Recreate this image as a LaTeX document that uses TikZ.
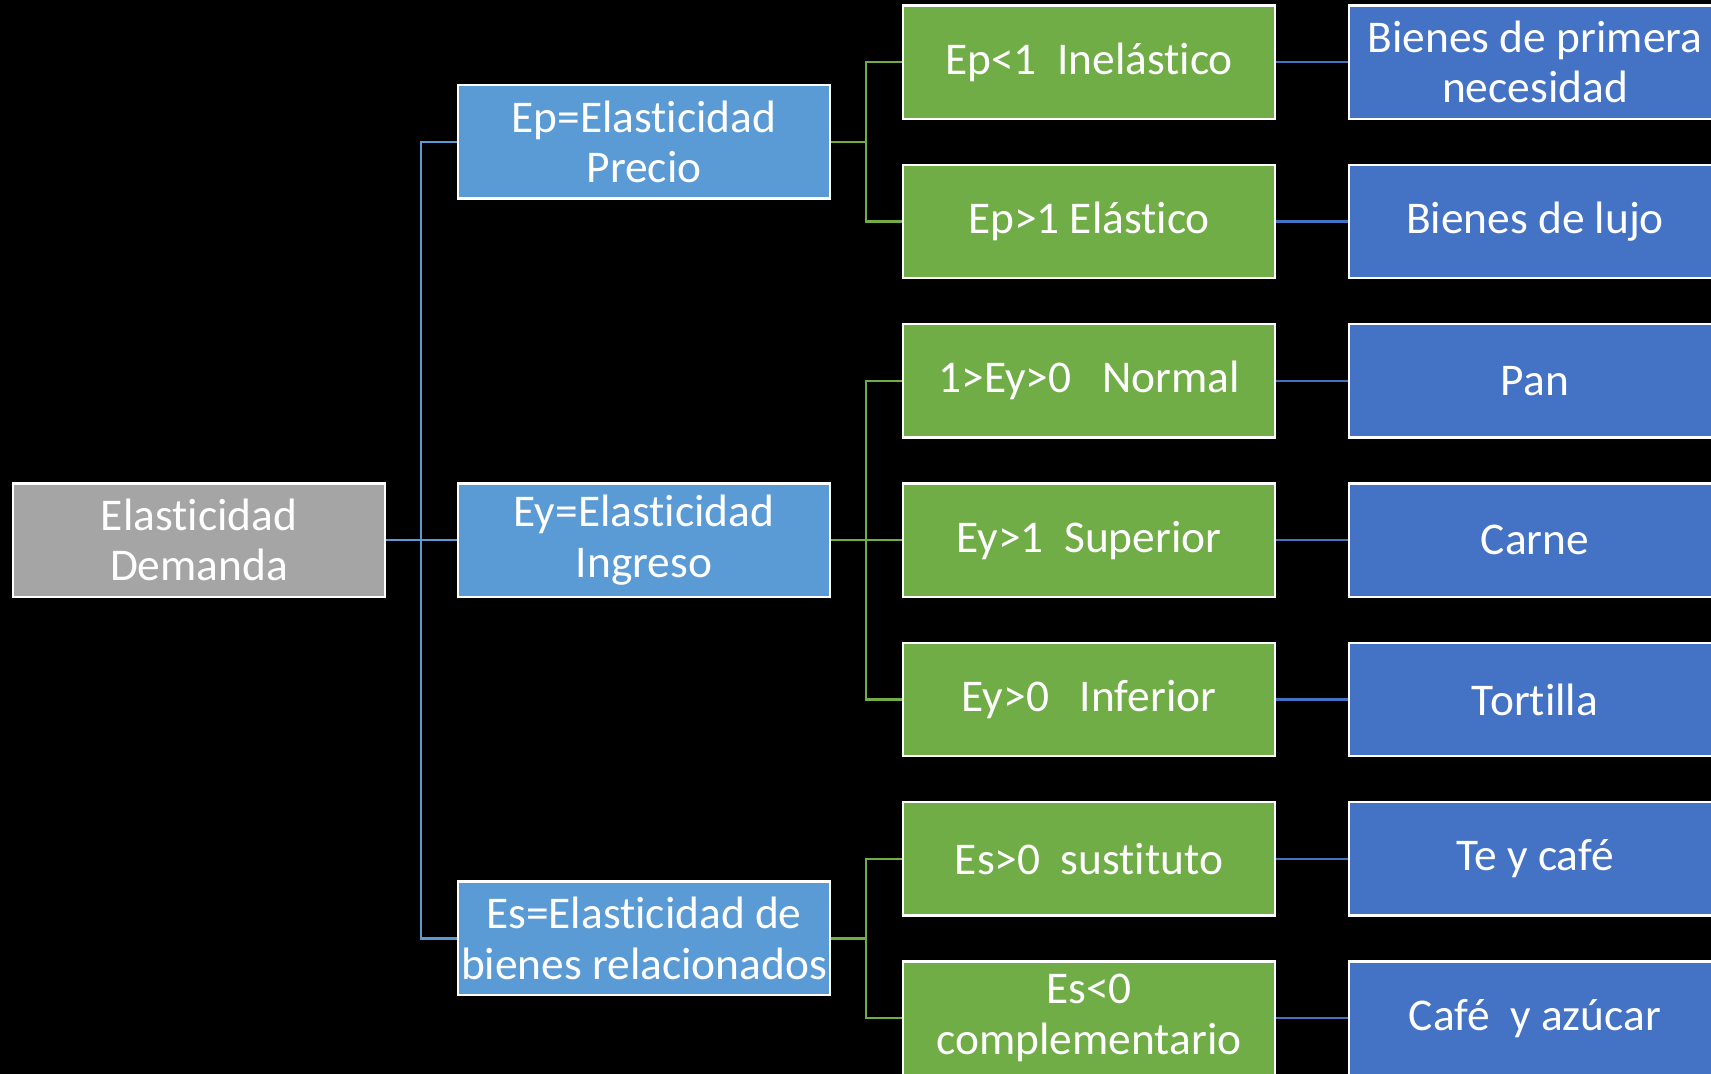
\documentclass[tikz,border=0pt]{standalone}
\usepackage{fontspec}
\setmainfont[Ligatures=NoCommon]{Carlito}
\definecolor{cgray}{HTML}{A5A5A5}
\definecolor{cmid}{HTML}{5B9BD5}
\definecolor{cgreen}{HTML}{70AD47}
\definecolor{cright}{HTML}{4472C4}
\begin{document}
\begin{tikzpicture}[x=0.5pt,y=-0.5pt,
  box/.style={draw=white, line width=1.2pt, minimum width=186pt, minimum height=56.75pt,
    text=white, align=center, inner sep=0pt, font=\fontsize{22.7}{25.2}\selectfont},
  graybox/.style={box, fill=cgray},
  midbox/.style={box, fill=cmid},
  greenbox/.style={box, fill=cgreen},
  rightbox/.style={box, fill=cright},
  bl/.style={draw=cmid, line width=1.1pt},
  gl/.style={draw=cgreen, line width=1.1pt},
  rl/.style={draw=cright, line width=1.1pt}]
\useasboundingbox (0,0) rectangle (1711,1074);
\clip (0,0) rectangle (1711,1074);
\fill[black] (0,0) rectangle (1711,1074);

\coordinate (bt) at (421,540);
\coordinate (gt) at (866,540);

\node[graybox] (ed) at (199,540.1) {Elasticidad\\Demanda};

\node[midbox] (ep) at (644,141.9) {Ep=Elasticidad\\Precio};
\node[midbox] (ey) at (644,540.1) {Ey=Elasticidad\\Ingreso};
\node[midbox] (es) at (644,938.4) {Es=Elasticidad de\\bienes relacionados};

\node[greenbox] (g1) at (1089,62.2) {Ep<1\ \ Inelástico};
\node[greenbox] (g2) at (1089,221.5) {Ep>1 Elástico};
\node[greenbox] (g3) at (1089,380.8) {1>Ey>0\ \ \ Normal};
\node[greenbox] (g4) at (1089,540.1) {Ey>1\ \ Superior};
\node[greenbox] (g5) at (1089,699.5) {Ey>0\ \ \ Inferior};
\node[greenbox] (g6) at (1089,858.8) {Es>0\ \ sustituto};
\node[greenbox] (g7) at (1089,1018.1) {Es<0\\complementario};

\node[rightbox] (r1) at (1535,62.2) {Bienes de primera\\necesidad};
\node[rightbox] (r2) at (1535,221.5) {Bienes de lujo};
\node[rightbox] (r3) at (1535,380.8) {Pan};
\node[rightbox] (r4) at (1535,540.1) {Carne};
\node[rightbox] (r5) at (1535,699.5) {Tortilla};
\node[rightbox] (r6) at (1535,858.8) {Te y café};
\node[rightbox] (r7) at (1535,1018.1) {Café\ \ y azúcar};

% blue tree
\draw[bl] (ed.east) -- (ey.west);
\draw[bl] (ep.west) -- (ep.west -| bt) -- (es.west -| bt) -- (es.west);

% green trees
\draw[gl] (ep.east) -- (ep.east -| gt);
\draw[gl] (g1.west) -- (g1.west -| gt) -- (g2.west -| gt) -- (g2.west);
\draw[gl] (ey.east) -- (g4.west);
\draw[gl] (g3.west) -- (g3.west -| gt) -- (g5.west -| gt) -- (g5.west);
\draw[gl] (es.east) -- (es.east -| gt);
\draw[gl] (g6.west) -- (g6.west -| gt) -- (g7.west -| gt) -- (g7.west);

% right connectors
\foreach \i in {1,...,7} { \draw[rl] (g\i.east) -- (r\i.west); }
\end{tikzpicture}
\end{document}
